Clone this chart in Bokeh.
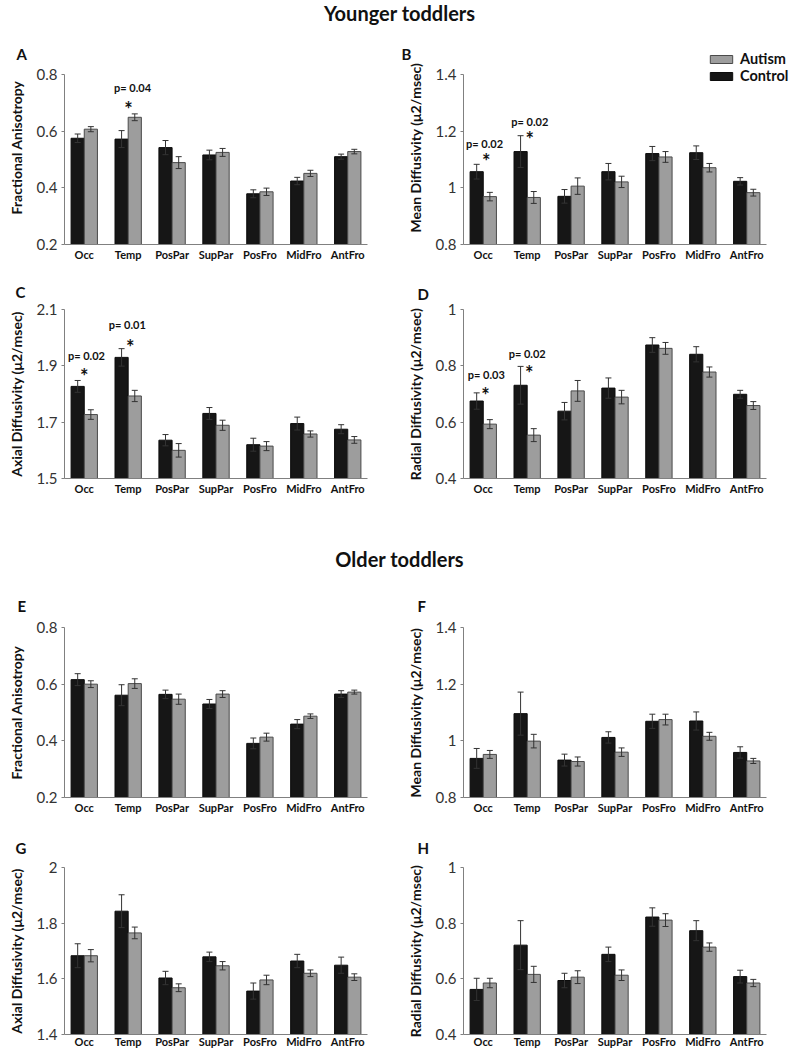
import numpy as np
from bokeh.plotting import figure
from bokeh.models import (ColumnDataSource, Whisker, TeeHead, FixedTicker, CustomJSTickFormatter,
                          Range1d, Legend, LegendItem, Div)
from bokeh.layouts import column, row
from bokeh.core.properties import value
from bokeh.embed import file_html
from bokeh.resources import INLINE

regions = ["Occ", "Temp", "PosPar", "SupPar", "PosFro", "MidFro", "AntFro"]
groups = ["Autism", "Control"]
section_titles = ["Younger toddlers", "Older toddlers"]

# ---- Younger toddlers ----
fa_young_control = [0.575, 0.572, 0.542, 0.516, 0.379, 0.424, 0.510]
fa_young_control_err = [0.015, 0.030, 0.025, 0.017, 0.014, 0.013, 0.009]
fa_young_autism = [0.607, 0.649, 0.489, 0.525, 0.386, 0.451, 0.528]
fa_young_autism_err = [0.009, 0.012, 0.021, 0.014, 0.013, 0.011, 0.008]

md_young_control = [1.057, 1.128, 0.970, 1.057, 1.121, 1.124, 1.023]
md_young_control_err = [0.026, 0.056, 0.024, 0.029, 0.025, 0.024, 0.013]
md_young_autism = [0.969, 0.966, 1.006, 1.021, 1.109, 1.071, 0.983]
md_young_autism_err = [0.015, 0.021, 0.029, 0.020, 0.019, 0.015, 0.012]

ad_young_control = [1.827, 1.930, 1.636, 1.731, 1.620, 1.695, 1.675]
ad_young_control_err = [0.021, 0.031, 0.020, 0.021, 0.023, 0.023, 0.016]
ad_young_autism = [1.727, 1.793, 1.600, 1.689, 1.615, 1.658, 1.637]
ad_young_autism_err = [0.017, 0.020, 0.024, 0.018, 0.016, 0.011, 0.012]

rd_young_control = [0.675, 0.731, 0.639, 0.721, 0.874, 0.841, 0.699]
rd_young_control_err = [0.029, 0.067, 0.031, 0.036, 0.026, 0.027, 0.014]
rd_young_autism = [0.593, 0.554, 0.711, 0.689, 0.862, 0.778, 0.659]
rd_young_autism_err = [0.016, 0.023, 0.037, 0.024, 0.021, 0.018, 0.014]

# ---- Older toddlers ----
fa_old_control = [0.616, 0.561, 0.564, 0.530, 0.391, 0.459, 0.565]
fa_old_control_err = [0.021, 0.037, 0.015, 0.016, 0.019, 0.016, 0.012]
fa_old_autism = [0.600, 0.602, 0.547, 0.565, 0.413, 0.487, 0.572]
fa_old_autism_err = [0.012, 0.017, 0.018, 0.012, 0.014, 0.008, 0.007]

md_old_control = [0.938, 1.096, 0.932, 1.012, 1.069, 1.070, 0.959]
md_old_control_err = [0.035, 0.076, 0.021, 0.020, 0.025, 0.032, 0.020]
md_old_autism = [0.952, 0.999, 0.927, 0.960, 1.075, 1.016, 0.929]
md_old_autism_err = [0.014, 0.024, 0.016, 0.015, 0.019, 0.014, 0.009]

ad_old_control = [1.683, 1.843, 1.603, 1.679, 1.556, 1.664, 1.649]
ad_old_control_err = [0.043, 0.059, 0.024, 0.017, 0.029, 0.024, 0.029]
ad_old_autism = [1.683, 1.765, 1.568, 1.647, 1.596, 1.620, 1.606]
ad_old_autism_err = [0.022, 0.021, 0.014, 0.015, 0.017, 0.012, 0.012]

rd_old_control = [0.562, 0.721, 0.594, 0.688, 0.822, 0.773, 0.608]
rd_old_control_err = [0.040, 0.088, 0.026, 0.026, 0.033, 0.036, 0.023]
rd_old_autism = [0.585, 0.616, 0.606, 0.613, 0.811, 0.714, 0.585]
rd_old_autism_err = [0.017, 0.029, 0.023, 0.019, 0.023, 0.015, 0.013]

# significance marks: (region index, p text, star x shift, star y, p x shift, p y)
sig_A = [(1, "p= 0.04", 0.01, 0.697, 0.10, 0.755)]
sig_B = [(0, "p= 0.02", 0.07, 1.111, 0.03, 1.157), (1, "p= 0.02", 0.06, 1.191, 0.06, 1.234)]
sig_C = [(0, "p= 0.02", 0.00, 1.882, 0.05, 1.937), (1, "p= 0.01", 0.05, 1.986, -0.02, 2.046)]
sig_D = [(0, "p= 0.03", 0.05, 0.715, 0.07, 0.769), (1, "p= 0.02", 0.05, 0.792, 0.00, 0.845)]

FONT = "Lato"
BLACK = "#161616"
GRAY = "#9d9d9d"
AXIS = "#808080"

LEFT = dict(width=400, bl=64, br=33)
RIGHT = dict(width=399, bl=63, br=33)
FRAME_W = 303


def panel(letter, side, yr, yticks, ylabel, ctrl, ctrl_err, aut, aut_err,
          top, frame_h, bottom, letter_off, letter_standoff, sigs=None,
          legend=False, xstand=3, extra_top=0, extra_right=0):
    geo = LEFT if side == "L" else RIGHT
    ymin, ymax = yr
    x0, x1 = -0.45, len(regions) - 0.55
    ppu_x = FRAME_W / (x1 - x0)
    ppu_y = frame_h / (ymax - ymin)
    p = figure(width=geo["width"], height=top + frame_h + bottom,
               x_range=Range1d(x0, x1 + extra_right / ppu_x),
               y_range=Range1d(ymin, ymax + extra_top / ppu_y),
               output_backend="svg", toolbar_location=None, title=letter,
               min_border_left=geo["bl"], min_border_right=geo["br"] - extra_right,
               min_border_top=top - extra_top, min_border_bottom=bottom)
    p.outline_line_color = None
    p.xgrid.visible = False
    p.ygrid.visible = False

    # panel letter as title
    p.title.align = "left"
    p.title.offset = letter_off
    p.title.standoff = letter_standoff
    p.title.text_font = FONT
    p.title.text_font_style = "bold"
    p.title.text_font_size = "15px"
    p.title.text_color = "#111111"

    x = np.arange(len(regions))
    c = np.array(ctrl); ce = np.array(ctrl_err)
    a = np.array(aut); ae = np.array(aut_err)
    src_c = ColumnDataSource(dict(x=x - 0.15, top=c, upper=c + ce, lower=c - ce))
    src_a = ColumnDataSource(dict(x=x + 0.15, top=a, upper=a + ae, lower=a - ae))
    rc = p.vbar(x="x", top="top", bottom=ymin, width=0.3, source=src_c,
                fill_color=BLACK, line_color="#0c0c0c", line_width=1)
    ra = p.vbar(x="x", top="top", bottom=ymin, width=0.3, source=src_a,
                fill_color=GRAY, line_color="#4a4a4a", line_width=1)
    for src in (src_c, src_a):
        w = Whisker(base="x", upper="upper", lower="lower", source=src,
                    line_color="#333333", line_width=1,
                    upper_head=TeeHead(size=6, line_color="#333333", line_width=1),
                    lower_head=TeeHead(size=6, line_color="#333333", line_width=1))
        w.level = "annotation"
        p.add_layout(w)

    # y axis
    p.yaxis.bounds = (ymin, ymax)
    p.yaxis.ticker = FixedTicker(ticks=yticks)
    p.yaxis.formatter = CustomJSTickFormatter(code="return String(tick);")
    p.yaxis.major_tick_in = 0
    p.yaxis.major_tick_out = 3
    p.yaxis.minor_tick_line_color = None
    p.yaxis.axis_line_color = AXIS
    p.yaxis.major_tick_line_color = AXIS
    p.yaxis.major_label_text_font = FONT
    p.yaxis.major_label_text_font_size = "15px"
    p.yaxis.major_label_text_color = "#333333"
    p.yaxis.major_label_standoff = 4
    p.yaxis.axis_label = ylabel
    p.yaxis.axis_label_text_font = FONT
    p.yaxis.axis_label_text_font_style = "bold"
    p.yaxis.axis_label_text_font_size = "14px"
    p.yaxis.axis_label_text_color = "#111111"
    p.yaxis.axis_label_standoff = 9

    # x axis
    p.xaxis.bounds = (x0, x1)
    p.xaxis.ticker = FixedTicker(ticks=list(range(len(regions))))
    p.xaxis.major_label_overrides = {i: r for i, r in enumerate(regions)}
    p.xaxis.major_tick_line_color = None
    p.xaxis.major_tick_in = 0
    p.xaxis.major_tick_out = 0
    p.xaxis.minor_tick_line_color = None
    p.xaxis.minor_tick_in = 0
    p.xaxis.minor_tick_out = 0
    p.xaxis.axis_line_color = AXIS
    p.xaxis.major_label_text_font = FONT
    p.xaxis.major_label_text_font_style = "bold"
    p.xaxis.major_label_text_font_size = "11px"
    p.xaxis.major_label_text_color = "#111111"
    p.xaxis.major_label_standoff = xstand

    if sigs:
        sx = [s[0] + s[2] for s in sigs]
        sy = [s[3] for s in sigs]
        px = [s[0] + s[4] for s in sigs]
        py = [s[5] for s in sigs]
        pt = [s[1] for s in sigs]
        p.text(x=px, y=py, text=pt, text_font=value(FONT), text_font_style="bold",
               text_font_size="11px", text_align="center", text_baseline="middle",
               text_color="#111111")
        p.text(x=sx, y=sy, text=["*"] * len(sigs), text_font=value(FONT),
               text_font_style="bold", text_font_size="20px", text_align="center",
               text_baseline="middle", text_color="#111111", y_offset=5)

    if legend:
        lg = Legend(items=[LegendItem(label=groups[0], renderers=[ra]),
                           LegendItem(label=groups[1], renderers=[rc])],
                    location=(244, 160), orientation="vertical",
                    glyph_width=28, glyph_height=10, label_text_font=FONT,
                    label_text_font_style="bold", label_text_font_size="14.5px",
                    label_text_color="#111111", label_standoff=5, spacing=0,
                    padding=0, margin=0, border_line_color=None,
                    background_fill_alpha=0, label_height=12)
        p.add_layout(lg)
    return p


FA = "Fractional Anisotropy"
MD = "Mean Diffusivity (\u03bc2/msec)"
AD = "Axial Diffusivity (\u03bc2/msec)"
RD = "Radial Diffusivity (\u03bc2/msec)"

pA = panel("A", "L", (0.2, 0.8), [0.2, 0.4, 0.6, 0.8], FA,
           fa_young_control, fa_young_control_err, fa_young_autism, fa_young_autism_err,
           44, 170, 26, -48, -24, sigs=sig_A, extra_top=24)
pB = panel("B", "R", (0.8, 1.4), [0.8, 1.0, 1.2, 1.4], MD,
           md_young_control, md_young_control_err, md_young_autism, md_young_autism_err,
           44, 170, 26, -62, -24, sigs=sig_B, legend=True, extra_top=24, extra_right=33)
pC = panel("C", "L", (1.5, 2.1), [1.5, 1.7, 1.9, 2.1], AD,
           ad_young_control, ad_young_control_err, ad_young_autism, ad_young_autism_err,
           39, 169, 68, -49, 18, sigs=sig_C)
pD = panel("D", "R", (0.4, 1.0), [0.4, 0.6, 0.8, 1.0], RD,
           rd_young_control, rd_young_control_err, rd_young_autism, rd_young_autism_err,
           39, 169, 68, -46, 14, sigs=sig_D)
pE = panel("E", "L", (0.2, 0.8), [0.2, 0.4, 0.6, 0.8], FA,
           fa_old_control, fa_old_control_err, fa_old_autism, fa_old_autism_err,
           51, 170, 28, -47, 26)
pF = panel("F", "R", (0.8, 1.4), [0.8, 1.0, 1.2, 1.4], MD,
           md_old_control, md_old_control_err, md_old_autism, md_old_autism_err,
           51, 170, 28, -46, 26)
pG = panel("G", "L", (1.4, 2.0), [1.4, 1.6, 1.8, 2.0], AD,
           ad_old_control, ad_old_control_err, ad_old_autism, ad_old_autism_err,
           40, 169, 16, -49, 22, xstand=0)
pH = panel("H", "R", (0.4, 1.0), [0.4, 0.6, 0.8, 1.0], RD,
           rd_old_control, rd_old_control_err, rd_old_autism, rd_old_autism_err,
           40, 169, 16, -46, 22, xstand=0)


def heading(txt, h):
    return Div(text=('<div style="width:799px;text-align:center;font-family:Lato;'
                     'font-weight:bold;font-size:20px;line-height:26px;color:#111">%s</div>'
                     % txt), width=799, height=h, margin=0)


layout = column(heading(section_titles[0], 30), row(pA, pB), row(pC, pD),
                heading(section_titles[1], 30), row(pE, pF), row(pG, pH), spacing=0)

open("out.html", "w").write(file_html(layout, INLINE))
